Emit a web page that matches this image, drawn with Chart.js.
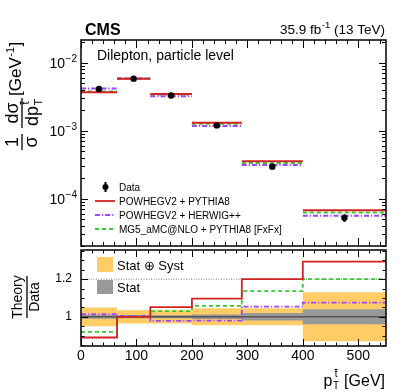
<!DOCTYPE html>
<html><head><meta charset="utf-8">
<script src="https://cdn.jsdelivr.net/npm/chart.js@4.4.1/dist/chart.umd.min.js"></script>
<style>
html,body{margin:0;padding:0;background:#fff;width:407px;height:391px;overflow:hidden}
canvas{position:absolute;left:0}
#top{top:0}
#bot{top:248px}
</style></head><body>
<canvas id="top" width="407" height="250"></canvas>
<canvas id="bot" width="407" height="143"></canvas>
<script>
// ---------------- data ----------------
const binEdges = [0, 65, 125, 200, 290, 400, 550];
const dataValues = [4.10e-3, 5.80e-3, 3.28e-3, 1.19e-3, 2.94e-4, 5.19e-5];
const relErrTotal = [0.05, 0.035, 0.035, 0.045, 0.045, 0.13];
const relErrStat = [0.010, 0.008, 0.008, 0.012, 0.020, 0.040];
const powhegPythia8 = [3.65e-3, 5.80e-3, 3.45e-3, 1.305e-3, 3.53e-4, 6.71e-5];
const powhegHerwig = [4.16e-3, 5.83e-3, 3.21e-3, 1.166e-3, 3.10e-4, 5.58e-5];
const mg5Pythia8 = [3.77e-3, 5.83e-3, 3.38e-3, 1.259e-3, 3.34e-4, 6.23e-5];
const seriesNames = ['Data', 'POWHEGV2 + PYTHIA8', 'POWHEGV2 + HERWIG++', 'MG5_aMC@NLO + PYTHIA8 [FxFx]'];
const bandNames = ['Stat \u2295 Syst', 'Stat'];
const xTickValues = [0, 100, 200, 300, 400, 500];
const logTickValues = [1e-2, 1e-3, 1e-4];
const logTickExponents = ['\u22122', '\u22123', '\u22124'];
const ratioTickValues = [1, 1.2];

// ---------------- style ----------------
const FONT = "'Liberation Sans', Arial, Helvetica, sans-serif";
Chart.defaults.font.family = FONT;
Chart.defaults.color = '#000';
const RED = '#d42222', PURPLE = '#9b45ff', GREEN = '#33cc33';
const ORANGE = '#ffcc66', GRAY = '#999999';
const DASH_PURPLE = [5, 2, 1.2, 2], DASH_GREEN = [4, 3];

const nBins = dataValues.length;
const xMin = binEdges[0], xMax = binEdges[nBins];
const centers = dataValues.map((_, i) => (binEdges[i] + binEdges[i + 1]) / 2);

function segPoints(vals) {
  const p = [];
  vals.forEach((v, i) => { p.push({x: binEdges[i], y: v}, {x: binEdges[i + 1], y: v}, {x: binEdges[i + 1], y: null}); });
  return p;
}
function stepPoints(vals) {
  const p = vals.map((v, i) => ({x: binEdges[i], y: v}));
  p.push({x: binEdges[nBins], y: vals[nBins - 1]});
  return p;
}
const ratio = arr => arr.map((v, i) => v / dataValues[i]);

function line(ctx, x0, y0, x1, y1) { ctx.beginPath(); ctx.moveTo(x0, y0); ctx.lineTo(x1, y1); ctx.stroke(); }

function drawXTicks(ctx, a, xs, major, minor) {
  for (let v = xMin; v <= xMax; v += 20) {
    const px = Math.round(xs.getPixelForValue(v)) + 0.5;
    const len = (v % 100 === 0) ? major : minor;
    line(ctx, px, a.bottom, px, a.bottom - len);
    line(ctx, px, a.top, px, a.top + len);
  }
}

// ---------------- top panel ----------------
const topDeco = {
  id: 'topDeco',
  afterDatasetsDraw(chart) {
    const {ctx, scales: {x, y}} = chart;
    ctx.save();
    ctx.strokeStyle = '#000'; ctx.lineWidth = 2;
    dataValues.forEach((v, i) => {
      const px = x.getPixelForValue(centers[i]);
      line(ctx, px, y.getPixelForValue(v * (1 - relErrTotal[i])), px, y.getPixelForValue(v * (1 + relErrTotal[i])));
    });
    ctx.restore();
  },
  afterDraw(chart) {
    const {ctx, chartArea: a, scales: {x, y}} = chart;
    ctx.save();
    ctx.strokeStyle = '#000'; ctx.fillStyle = '#000';
    ctx.lineWidth = 1.5;
    ctx.strokeRect(a.left, a.top, a.right - a.left, a.bottom - a.top);
    ctx.lineWidth = 1;
    drawXTicks(ctx, a, x, 8, 4);
    for (let d = -6; d <= 0; d++) for (let m = 1; m <= 9; m++) {
      const v = m * Math.pow(10, d);
      if (v < y.min || v > y.max) continue;
      const py = Math.round(y.getPixelForValue(v)) + 0.5;
      const len = m === 1 ? 7 : 4;
      line(ctx, a.left, py, a.left + len, py);
      line(ctx, a.right, py, a.right - len, py);
    }
    // log tick labels
    logTickValues.forEach((v, i) => {
      const py = y.getPixelForValue(v);
      ctx.font = `10px ${FONT}`; ctx.textAlign = 'right'; ctx.textBaseline = 'alphabetic';
      const R = a.left - 4;
      const ws = ctx.measureText(logTickExponents[i]).width;
      ctx.fillText(logTickExponents[i], R, py - 1);
      ctx.font = `14px ${FONT}`;
      ctx.fillText('10', R - ws - 0.5, py + 5);
    });
    // header texts
    ctx.textAlign = 'left';
    ctx.font = `bold 16px ${FONT}`;
    ctx.fillText('CMS', 85, 35);
    ctx.textAlign = 'right';
    ctx.font = `13.5px ${FONT}`;
    let xr = 385;
    ctx.fillText(' (13 TeV)', xr, 34); xr -= ctx.measureText(' (13 TeV)').width;
    ctx.font = `9.5px ${FONT}`;
    ctx.fillText('-1', xr, 28); xr -= ctx.measureText('-1').width + 0.5;
    ctx.font = `13.5px ${FONT}`;
    ctx.fillText('35.9 fb', xr, 34);
    ctx.textAlign = 'left';
    ctx.font = `14px ${FONT}`;
    ctx.fillText('Dilepton, particle level', 97, 60);

    // legend
    const rows = [187, 201, 215, 229];
    ctx.font = `10px ${FONT}`;
    seriesNames.forEach((n, i) => ctx.fillText(n, 119, rows[i] + 3.5));
    ctx.beginPath(); ctx.arc(105.5, rows[0], 3, 0, 2 * Math.PI); ctx.fill();
    ctx.lineWidth = 2; line(ctx, 105.5, rows[0] - 5, 105.5, rows[0] + 5);
    const leg = [[RED, []], [PURPLE, DASH_PURPLE], [GREEN, DASH_GREEN]];
    leg.forEach((l, i) => {
      ctx.strokeStyle = l[0]; ctx.setLineDash(l[1]); ctx.lineWidth = 1.8;
      line(ctx, 95, rows[i + 1], 115, rows[i + 1]);
    });
    ctx.setLineDash([]);

    // y title (rotated)
    ctx.translate(0, 150); ctx.rotate(-Math.PI / 2);
    ctx.fillStyle = '#000'; ctx.strokeStyle = '#000'; ctx.lineWidth = 1.3;
    ctx.textBaseline = 'alphabetic';
    ctx.font = `18px ${FONT}`; ctx.textAlign = 'center';
    ctx.fillText('1', 8, 18);
    ctx.fillText('\u03c3', 8, 37);
    line(ctx, 0, 22, 16, 22);
    ctx.fillText('d\u03c3', 37, 18);
    line(ctx, 22, 22, 52, 22);
    ctx.textAlign = 'left';
    const u0 = 24;
    ctx.fillText('dp', u0, 38);
    const wdp = ctx.measureText('dp').width;
    ctx.font = `11px ${FONT}`;
    ctx.fillText('T', u0 + wdp + 0.5, 42);
    ctx.fillText('t', u0 + wdp + 1.5, 29);
    const wt = ctx.measureText('t').width;
    ctx.lineWidth = 1; line(ctx, u0 + wdp + 1.5, 20.5, u0 + wdp + 1.5 + wt, 20.5);
    ctx.font = `17px ${FONT}`;
    let u = 54;
    ctx.fillText('[GeV', u, 21); u += ctx.measureText('[GeV').width + 0.5;
    ctx.font = `11px ${FONT}`;
    ctx.fillText('-1', u, 14); u += ctx.measureText('-1').width + 0.5;
    ctx.font = `17px ${FONT}`;
    ctx.fillText(']', u, 21);
    ctx.restore();
  }
};

const topChart = new Chart(document.getElementById('top'), {
  type: 'line',
  data: {
    datasets: [
      {label: seriesNames[0], data: dataValues.map((v, i) => ({x: centers[i], y: v})), showLine: false,
       pointRadius: 3.2, pointBackgroundColor: '#000', pointBorderWidth: 0},
      {label: seriesNames[1], data: segPoints(powhegPythia8), borderColor: RED, borderWidth: 2, pointRadius: 0, spanGaps: false},
      {label: seriesNames[2], data: segPoints(powhegHerwig), borderColor: PURPLE, borderWidth: 2, borderDash: DASH_PURPLE, pointRadius: 0, spanGaps: false},
      {label: seriesNames[3], data: segPoints(mg5Pythia8), borderColor: GREEN, borderWidth: 2, borderDash: DASH_GREEN, pointRadius: 0, spanGaps: false}
    ]
  },
  options: {
    responsive: false, animation: false, devicePixelRatio: 1, events: [],
    layout: {padding: {left: 81, right: 21, top: 40, bottom: 1}},
    plugins: {legend: {display: false}, tooltip: {enabled: false}},
    scales: {
      x: {type: 'linear', min: xMin, max: xMax, display: false},
      y: {type: 'logarithmic', min: 2.0e-5, max: 2.15e-2, display: false}
    }
  },
  plugins: [topDeco]
});

// ---------------- ratio panel ----------------
const botDeco = {
  id: 'botDeco',
  afterDraw(chart) {
    const {ctx, chartArea: a, scales: {x, y}} = chart;
    ctx.save();
    ctx.strokeStyle = '#000'; ctx.fillStyle = '#000';
    ctx.lineWidth = 1.5;
    ctx.strokeRect(a.left, a.top, a.right - a.left, a.bottom - a.top);
    ctx.lineWidth = 1;
    drawXTicks(ctx, a, x, 7, 3.5);
    for (let k = 0; k <= 40; k++) {
      const v = 0.6 + k * 0.05;
      if (v < y.min || v > y.max) continue;
      const py = Math.round(y.getPixelForValue(v)) + 0.5;
      const len = (Math.abs(Math.round(v * 10) - v * 10) < 1e-6 && Math.round(v * 10) % 2 === 0) ? 7 : 3.5;
      line(ctx, a.left, py, a.left + len, py);
      line(ctx, a.right, py, a.right - len, py);
    }
    // band legend
    ctx.fillStyle = ORANGE; ctx.fillRect(97, 9, 16, 15);
    ctx.fillStyle = GRAY; ctx.fillRect(97, 32, 16, 14);
    ctx.fillStyle = '#000';
    ctx.font = `13px ${FONT}`; ctx.textAlign = 'left'; ctx.textBaseline = 'alphabetic';
    ctx.fillText(bandNames[0], 117, 22);
    ctx.fillText(bandNames[1], 117, 43.5);
    // x title
    ctx.textAlign = 'right';
    ctx.font = `16px ${FONT}`;
    let xr = 385;
    ctx.fillText('[GeV]', xr, 138); xr -= ctx.measureText('[GeV]').width + 5;
    ctx.font = `10px ${FONT}`;
    const ws = ctx.measureText('T').width;
    ctx.fillText('T', xr, 141);
    const wt = ctx.measureText('t').width;
    ctx.fillText('t', xr - (ws - wt) / 2, 129);
    ctx.lineWidth = 1; line(ctx, xr - (ws - wt) / 2 - wt, 121.5, xr - (ws - wt) / 2, 121.5);
    xr -= ws + 0.5;
    ctx.font = `16px ${FONT}`;
    ctx.fillText('p', xr, 138);
    // y title
    ctx.translate(0, 49); ctx.rotate(-Math.PI / 2);
    ctx.textAlign = 'center'; ctx.font = `14px ${FONT}`;
    ctx.fillText('Theory', 0, 22);
    ctx.fillText('Data', 0, 39);
    ctx.lineWidth = 1.3; line(ctx, -21, 27, 21, 27);
    ctx.restore();
  }
};

const bandBase = {pointRadius: 0, borderWidth: 0, stepped: 'before'};
const botChart = new Chart(document.getElementById('bot'), {
  type: 'line',
  data: {
    datasets: [
      {label: seriesNames[1], data: stepPoints(ratio(powhegPythia8)), borderColor: RED, borderWidth: 1.8, pointRadius: 0, stepped: 'before'},
      {label: seriesNames[2], data: stepPoints(ratio(powhegHerwig)), borderColor: PURPLE, borderWidth: 1.8, borderDash: DASH_PURPLE, pointRadius: 0, stepped: 'before'},
      {label: seriesNames[3], data: stepPoints(ratio(mg5Pythia8)), borderColor: GREEN, borderWidth: 1.8, borderDash: DASH_GREEN, pointRadius: 0, stepped: 'before'},
      {label: 'unity', data: [{x: xMin, y: 1}, {x: xMax, y: 1}], borderColor: '#555', borderWidth: 1.5, pointRadius: 0},
      {label: 'ref', data: [{x: xMin, y: ratioTickValues[1]}, {x: xMax, y: ratioTickValues[1]}], borderColor: '#777', borderWidth: 1, borderDash: [1, 1.5], pointRadius: 0},
      {label: 'statUp', data: stepPoints(relErrStat.map(e => 1 + e)), fill: '+1', backgroundColor: GRAY, ...bandBase},
      {label: 'statDn', data: stepPoints(relErrStat.map(e => 1 - e)), fill: false, ...bandBase},
      {label: 'totUp', data: stepPoints(relErrTotal.map(e => 1 + e)), fill: '+1', backgroundColor: ORANGE, ...bandBase},
      {label: 'totDn', data: stepPoints(relErrTotal.map(e => 1 - e)), fill: false, ...bandBase}
    ]
  },
  options: {
    responsive: false, animation: false, devicePixelRatio: 1, events: [],
    layout: {padding: {left: 0, right: 21, top: 2, bottom: 0}},
    plugins: {legend: {display: false}, tooltip: {enabled: false}},
    scales: {
      x: {type: 'linear', min: xMin, max: xMax,
          afterBuildTicks: s => { s.ticks = xTickValues.map(v => ({value: v})); },
          afterFit: s => { s.height = 45; s.paddingLeft = 0; s.paddingRight = 0; },
          ticks: {font: {size: 14}, color: '#000', padding: 2, maxRotation: 0, autoSkip: false},
          grid: {display: false, drawTicks: false}, border: {display: false}},
      y: {type: 'linear', min: 0.845, max: 1.355,
          afterBuildTicks: s => { s.ticks = ratioTickValues.map(v => ({value: v})); },
          afterFit: s => { s.width = 81; s.paddingTop = 0; s.paddingBottom = 0; },
          ticks: {font: {size: 12}, color: '#000', padding: 9, callback: v => String(v)},
          grid: {display: false, drawTicks: false}, border: {display: false}}
    }
  },
  plugins: [botDeco]
});
</script>
</body></html>
